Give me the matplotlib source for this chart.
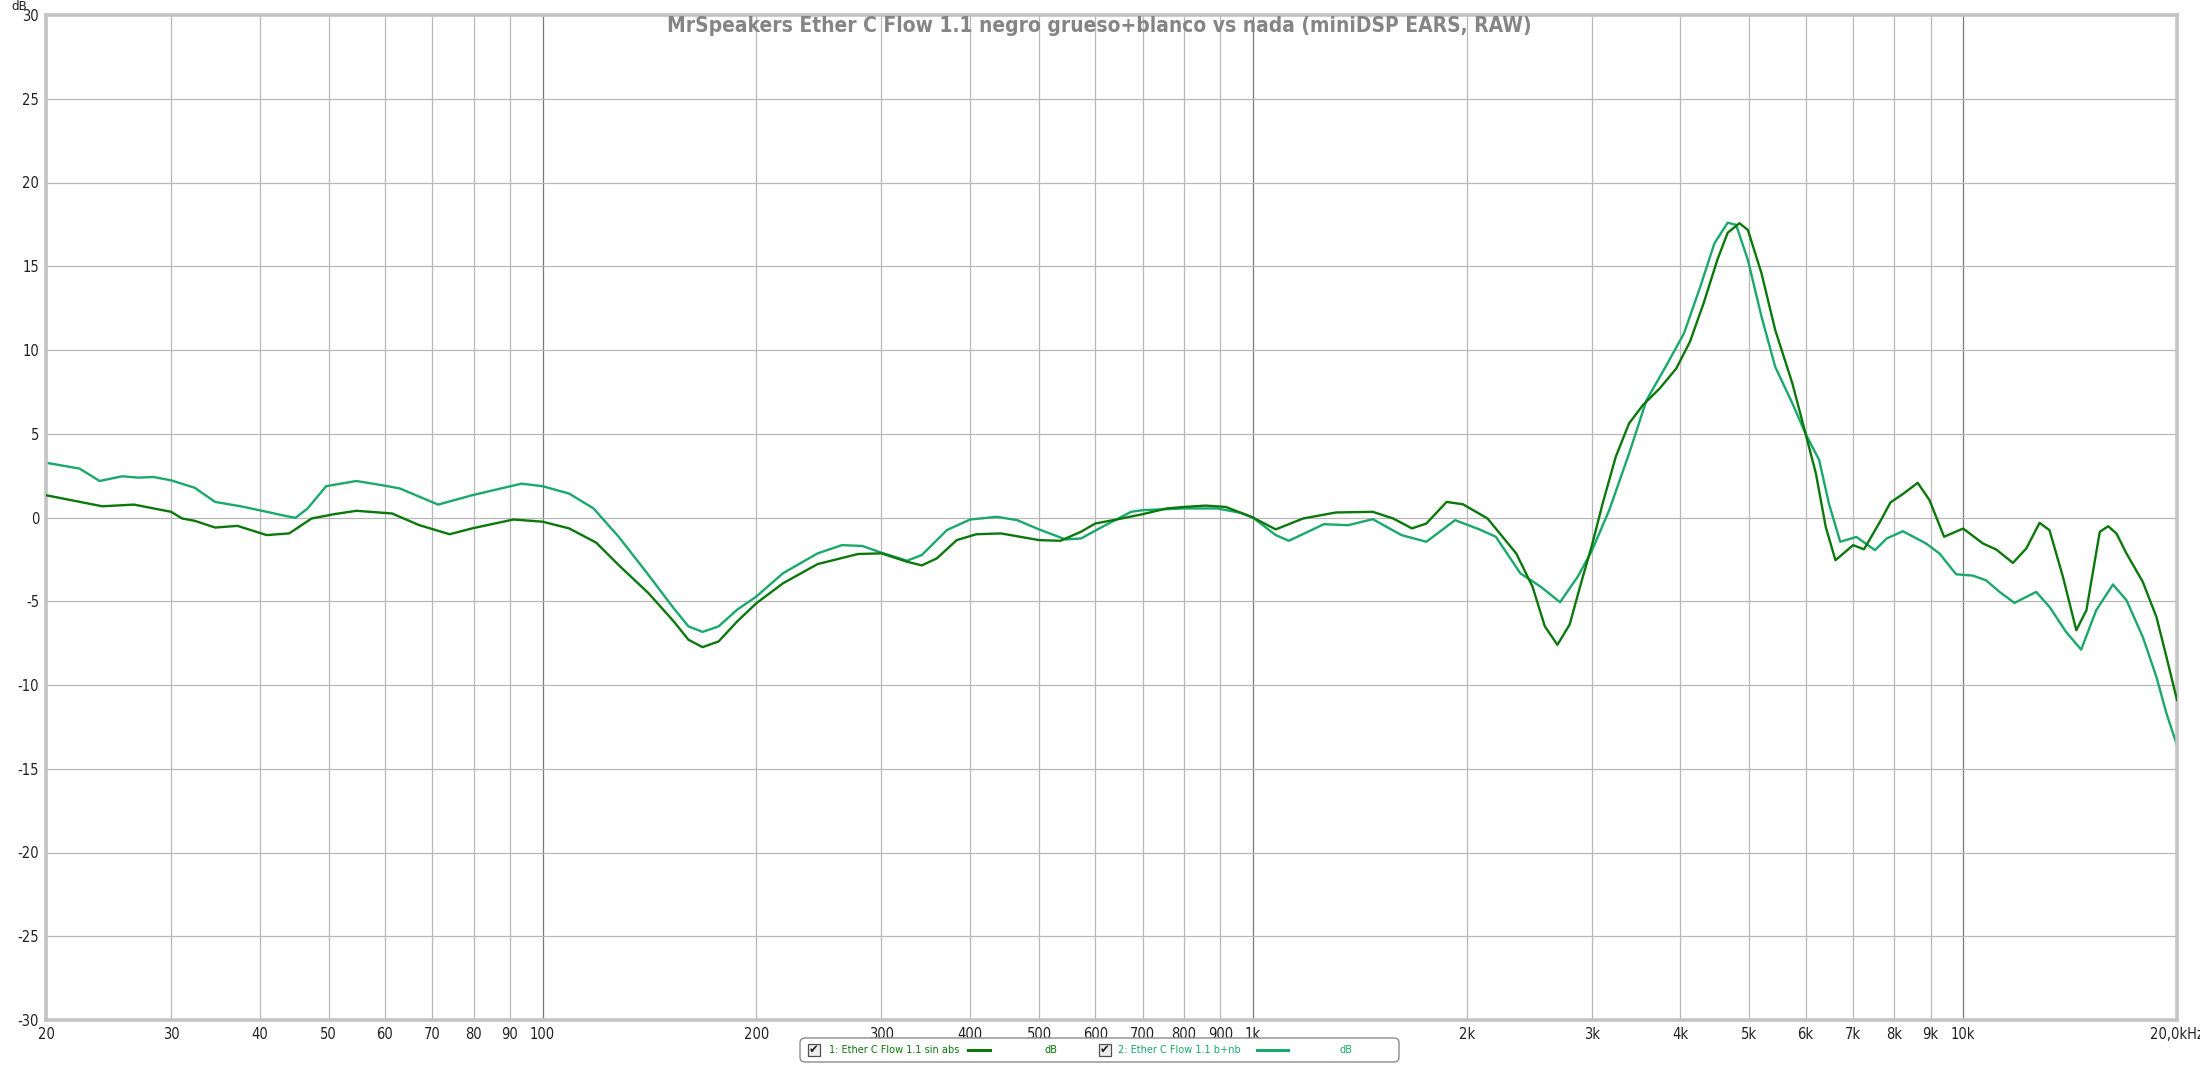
import matplotlib
matplotlib.use('Agg')
import matplotlib.pyplot as plt
from matplotlib import font_manager
from matplotlib.patches import FancyBboxPatch, Rectangle

# chart data
TITLE = 'MrSpeakers Ether C Flow 1.1 negro grueso+blanco vs nada (miniDSP EARS, RAW)'

freq_sin_abs = [20, 24, 26.6, 30, 31.1, 32.4, 34.6, 37.2, 40.9, 44, 47.3, 50.9, 54.7, 61.4, 67, 74, 79.6,
                91, 100, 109, 119, 128, 141, 153, 160.5, 168, 177, 188, 200, 218, 244, 278, 300, 326,
                342, 359, 383, 408, 442, 500, 536, 573, 600, 643, 700, 756, 800, 858, 916, 1000, 1077,
                1177, 1309, 1475, 1576, 1675, 1755, 1874, 1976, 2140, 2348, 2476, 2577, 2684, 2792,
                2906, 3000, 3108, 3243, 3386, 3541, 3740, 3946, 4125, 4312, 4509, 4661, 4842, 4976,
                5201, 5437, 5749, 6000, 6204, 6405, 6610, 7000, 7250, 7650, 7900, 8224, 8630, 8965,
                9400, 10000, 10660, 11130, 11750, 12270, 12810, 13230, 13820, 14430, 14910, 15570,
                16000, 16440, 16980, 17900, 18710, 19330, 20000]
db_sin_abs = [1.33, 0.67, 0.77, 0.34, -0.06, -0.2, -0.6, -0.5, -1.05, -0.95, -0.06, 0.2, 0.4, 0.24, -0.45,
              -1.0, -0.65, -0.12, -0.25, -0.65, -1.5, -2.84, -4.52, -6.2, -7.3, -7.74, -7.4, -6.2, -5.12,
              -3.93, -2.78, -2.18, -2.14, -2.64, -2.86, -2.44, -1.35, -1.0, -0.95, -1.35, -1.39, -0.85,
              -0.36, -0.12, 0.2, 0.54, 0.63, 0.71, 0.63, 0.0, -0.71, -0.06, 0.3, 0.34, -0.06, -0.65,
              -0.36, 0.93, 0.79, -0.06, -2.14, -4.13, -6.5, -7.6, -6.4, -3.73, -1.7, 0.84, 3.63, 5.62,
              6.71, 7.71, 8.9, 10.5, 12.8, 15.4, 17.0, 17.57, 17.17, 14.58, 11.2, 8.0, 5.0, 2.63, -0.56,
              -2.55, -1.65, -1.9, -0.2, 0.9, 1.4, 2.07, 1.04, -1.15, -0.66, -1.55, -1.91, -2.71, -1.85,
              -0.32, -0.76, -3.55, -6.73, -5.54, -0.86, -0.52, -0.96, -2.15, -3.84, -5.94, -8.33, -10.9]

freq_bnb = [20, 22.3, 23.8, 25.6, 27, 28.3, 30, 32.4, 34.6, 37.6, 40.9, 43.4, 44.9, 46.7, 49.6, 54.7, 60,
            63, 71.3, 79.6, 93.4, 100, 109, 118, 128, 141, 153, 160.5, 168, 177, 188, 200, 218, 244, 264,
            282, 300, 326, 342, 371, 400, 436, 466, 500, 545, 573, 620, 674, 700, 800, 890, 962, 1000,
            1077, 1124, 1259, 1362, 1475, 1619, 1755, 1926, 2084, 2198, 2380, 2542, 2707, 2867, 3000,
            3175, 3386, 3582, 3835, 4046, 4265, 4465, 4661, 4790, 4976, 5201, 5437, 5749, 6000, 6270,
            6471, 6713, 7074, 7514, 7805, 8224, 8866, 9261, 9775, 10320, 10770, 11250, 11810, 12670,
            13230, 13960, 14660, 15390, 16250, 16980, 17900, 18710, 19330, 20000]
db_bnb = [3.27, 2.92, 2.18, 2.46, 2.38, 2.42, 2.22, 1.77, 0.93, 0.67, 0.34, 0.1, -0.02, 0.54, 1.87, 2.18,
          1.9, 1.73, 0.77, 1.33, 2.02, 1.87, 1.43, 0.54, -1.15, -3.43, -5.42, -6.5, -6.83, -6.5, -5.5,
          -4.72, -3.33, -2.14, -1.65, -1.7, -2.1, -2.58, -2.24, -0.75, -0.12, 0.04, -0.16, -0.71, -1.31,
          -1.25, -0.46, 0.34, 0.44, 0.54, 0.54, 0.28, 0.0, -1.05, -1.39, -0.4, -0.46, -0.1, -1.05, -1.45,
          -0.16, -0.71, -1.15, -3.33, -4.13, -5.06, -3.53, -2.0, 0.44, 3.82, 7.0, 9.2, 11.0, 13.78, 16.37,
          17.6, 17.47, 15.38, 12.0, 9.0, 6.81, 5.0, 3.43, 0.84, -1.45, -1.16, -1.95, -1.25, -0.82, -1.55,
          -2.15, -3.39, -3.47, -3.75, -4.44, -5.1, -4.44, -5.34, -6.83, -7.89, -5.54, -4.0, -4.94, -7.13,
          -9.52, -11.7, -13.6]

x_ticks = [20, 30, 40, 50, 60, 70, 80, 90, 100, 200, 300, 400, 500, 600, 700, 800, 900, 1000,
           2000, 3000, 4000, 5000, 6000, 7000, 8000, 9000, 10000, 20000]
x_labels = ['20', '30', '40', '50', '60', '70', '80', '90', '100', '200', '300', '400', '500', '600',
            '700', '800', '900', '1k', '2k', '3k', '4k', '5k', '6k', '7k', '8k', '9k', '10k', '20,0kHz']
decades = [100, 1000, 10000]
y_ticks = list(range(-30, 31, 5))

legend_names = ['1: Ether C Flow 1.1 sin abs', '2: Ether C Flow 1.1 b+nb']
colors = ['#0b780b', '#1aa86c']

# narrow font like Arial Narrow if we have one
names = {f.name for f in font_manager.fontManager.ttflist}
if 'Liberation Sans Narrow' in names:
    FONT = dict(family=['Liberation Sans Narrow', 'DejaVu Sans'])
else:
    FONT = dict(family=['DejaVu Sans'], stretch='condensed')

W, H = 2200, 1067
fig = plt.figure(figsize=(W / 100, H / 100), dpi=100)
L, R, T, B = 46, 2177, 15, 1020
ax = fig.add_axes([L / W, 1 - B / H, (R - L) / W, (B - T) / H])

ax.plot(freq_sin_abs, db_sin_abs, color=colors[0], lw=1.7, zorder=3)
ax.plot(freq_bnb, db_bnb, color=colors[1], lw=1.7, zorder=2)

ax.set_xscale('log')
ax.set_xlim(20, 20000)
ax.set_ylim(-30, 30)
ax.set_xticks(x_ticks)
ax.set_xticklabels(x_labels, fontsize=10.5, color='#222222', **FONT)
ax.minorticks_off()
ax.set_yticks(y_ticks)
ax.set_yticklabels([str(v) for v in y_ticks], fontsize=10.5, color='#222222', **FONT)
ax.tick_params(length=0, pad=5)

ax.grid(True, color='#b8b8b8', lw=0.9)
for f, gl in zip(x_ticks, ax.get_xgridlines()):
    if f in decades:
        gl.set_color('#7a7a7a')
for s in ax.spines.values():
    s.set_color('#c4c4c4')
    s.set_linewidth(2.6)

# unit label sits just above-left of the "30" tick label
fig.text(19 / W, 1.0, 'dB', fontsize=9.5, color='#222222', ha='center', va='top', **FONT)
fig.text(1099 / W, 1 - 26 / H, TITLE, fontsize=15, fontweight='bold', color='#858585',
         ha='center', va='center', **FONT)

# legend strip under the axis, drawn in pixel units
lx0, lx1, ly0, ly1 = 796, 1403, 1034, 1066
lg = fig.add_axes([lx0 / W, 1 - ly1 / H, (lx1 - lx0) / W, (ly1 - ly0) / H])
lg.set_xlim(0, lx1 - lx0)
lg.set_ylim(0, ly1 - ly0)
lg.axis('off')
lg.add_patch(FancyBboxPatch((4, 4), 599, 24, boxstyle='round,pad=0,rounding_size=5',
                            fc='white', ec='#8c8c8c', lw=1.0))
cy = 16
items = [(12, 33, (172, 194), 255), (303, 322, (461, 492), 550)]
for (cbx, tx, (s0, s1), dbx), name, c in zip(items, legend_names, colors):
    lg.add_patch(Rectangle((cbx, cy - 6), 12, 12, fc='#ececec', ec='#505050', lw=0.9))
    lg.text(cbx + 6, cy, '\u2714', fontsize=8.5, ha='center', va='center', color='#202020',
            family='DejaVu Sans')
    lg.text(tx, cy, name, fontsize=7.8, color=c, ha='left', va='center', **FONT)
    lg.plot([s0, s1], [cy, cy], color=c, lw=2.2)
    lg.text(dbx, cy, 'dB', fontsize=7.8, color=c, ha='center', va='center', **FONT)

fig.savefig('out.png', dpi=100, facecolor='white')
